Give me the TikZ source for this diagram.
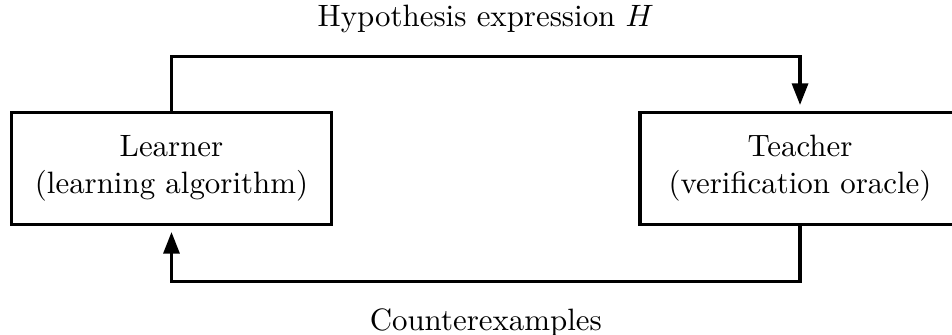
\documentclass[tikz,border=0pt]{standalone}
\usepackage{tikz}
\usetikzlibrary{arrows.meta, calc}
\tikzset{
  party box/.style={
    draw,
    line width=1pt,
    align=center,
    minimum width=3.64cm,
    minimum height=1.27cm,
    inner sep=3pt
  },
  flow/.style={
    -{Triangle[length=7pt, width=5.2pt]},
    line width=1pt,
    shorten >=2pt
  },
  flow label/.style={
    font=\normalsize
  }
}

\begin{document}
\begin{tikzpicture}

  % canvas of the figure (right box runs past the edge)
  \useasboundingbox (0,0) rectangle (10.83,-3.81);

  %% ---- the two parties ----
  \node[party box] (learner) at (1.951,-1.917) {Learner\\(learning algorithm)};
  \node[party box] (teacher) at (9.101,-1.917) {Teacher\\(verification oracle)};

  %% ---- hypothesis goes over the top ----
  \draw[flow] (learner.north) -- ++(0,0.62) -| (teacher.north)
      node[flow label, pos=0.25, above=4pt] {Hypothesis expression $H$};

  %% ---- counterexamples come back underneath ----
  \draw[flow] (teacher.south) -- ++(0,-0.63) -| (learner.south)
      node[flow label, pos=0.25, below=5pt] {Counterexamples};

\end{tikzpicture}
\end{document}
